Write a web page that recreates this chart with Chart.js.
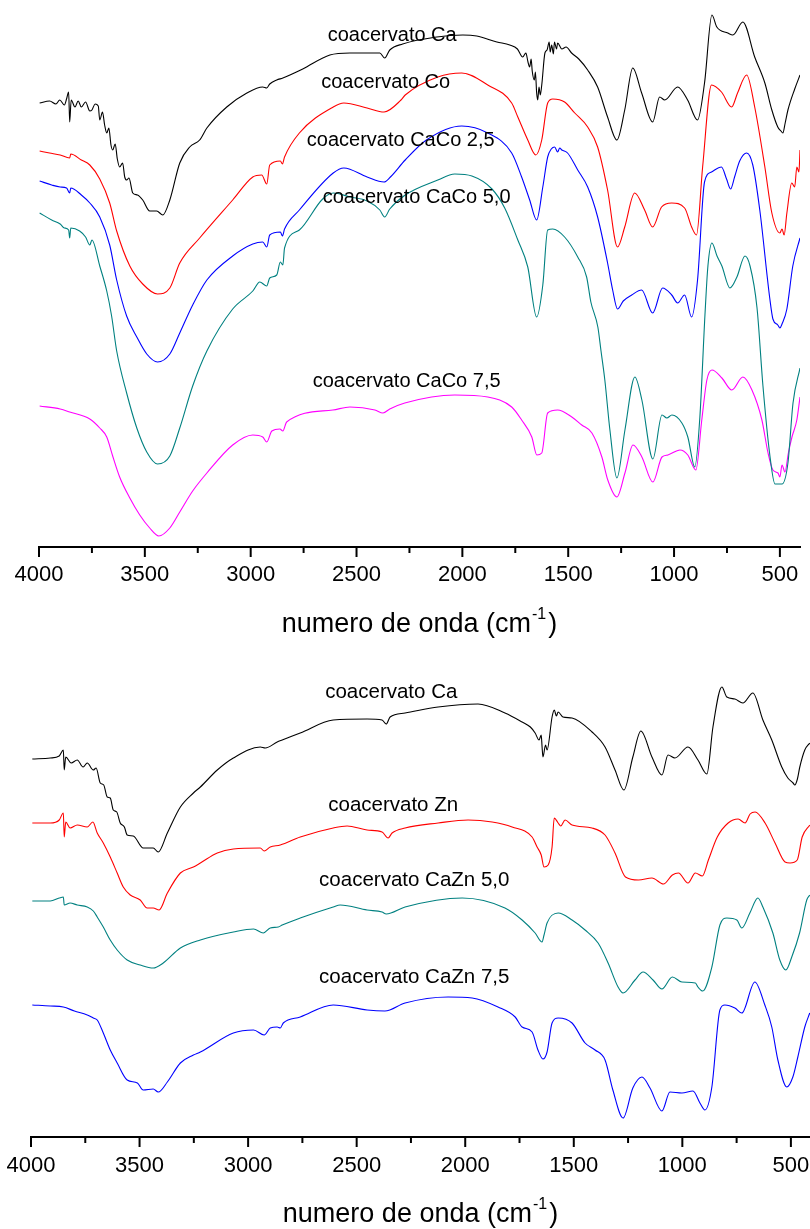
<!DOCTYPE html>
<html>
<head>
<meta charset="utf-8">
<script src="https://cdn.jsdelivr.net/npm/chart.js@4.4.1/dist/chart.umd.min.js"></script>
<style>
    body { margin: 0; background: #fff; width: 810px; height: 1229px; position: relative; overflow: hidden; }
    canvas { position: absolute; left: 0; }
    #topChart { top: 0; }
    #bottomChart { top: 650px; }
</style>
</head>
<body>
<canvas id="topChart" width="810" height="650"></canvas>
<canvas id="bottomChart" width="810" height="579"></canvas>
<script>
// ── FTIR spectra, two stacked panels ─────────────────────────────────────
// x = wavenumber (cm-1), y = transmittance with the vertical offsets
// of the original figure (arbitrary units).

const tickValues = [4000, 3750, 3500, 3250, 3000, 2750, 2500, 2250, 2000, 1750, 1500, 1250, 1000, 750, 500];
const axisTitle = ['numero de onda (cm', '-1', ')'];

// ── top panel: Ca / Co / CaCo ──
const caTopWn = [3997, 3950, 3920, 3902, 3880, 3870, 3860, 3855, 3848, 3830, 3815, 3800, 3780, 3760, 3750, 3735, 3720, 3713, 3700, 3690, 3680, 3670, 3660, 3652, 3640, 3630, 3619, 3605, 3595, 3586, 3575, 3557, 3535, 3510, 3477, 3444, 3415, 3382, 3335, 3288, 3241, 3207, 3113, 3018, 2943, 2924, 2910, 2877, 2848, 2754, 2626, 2531, 2390, 2367, 2343, 2282, 2121, 1998, 1932, 1837, 1776, 1740, 1715, 1700, 1690, 1682, 1675, 1670, 1660, 1655, 1649, 1644, 1638, 1632, 1625, 1610, 1600, 1590, 1585, 1578, 1570, 1565, 1555, 1550, 1530, 1510, 1484, 1450, 1408, 1361, 1314, 1270, 1233, 1195, 1153, 1101, 1068, 1044, 983, 936, 889, 856, 821, 798, 746, 722, 675, 619, 571, 538, 510, 495, 486, 475, 462, 430, 405];
const caTopT = [44.4, 44.6, 44.3, 44.7, 44.2, 44.8, 45.5, 42.5, 44.7, 44.0, 44.6, 44.0, 44.5, 43.6, 43.7, 44.3, 44.1, 42.7, 43.5, 42.2, 41.4, 41.9, 40.2, 39.7, 40.3, 38.8, 38.0, 38.4, 37.0, 36.7, 36.9, 35.4, 35.2, 34.7, 33.6, 33.6, 33.2, 34.7, 38.4, 40.0, 40.7, 41.9, 44.0, 45.4, 46.0, 45.9, 46.3, 46.7, 46.9, 47.8, 49.2, 49.4, 49.4, 48.9, 49.7, 50.3, 51.0, 51.2, 51.1, 50.5, 50.2, 49.8, 49.0, 49.4, 48.5, 48.0, 48.8, 47.6, 46.7, 47.5, 45.4, 44.7, 46.0, 45.2, 46.2, 49.4, 49.7, 50.5, 49.5, 50.2, 49.3, 50.5, 49.8, 50.4, 49.8, 50.0, 49.4, 48.8, 47.7, 46.0, 43.0, 40.7, 43.7, 47.9, 45.4, 42.5, 45.0, 44.7, 46.0, 44.7, 42.7, 46.4, 53.2, 52.0, 51.4, 51.2, 52.5, 49.0, 46.4, 43.7, 42.0, 41.6, 41.4, 42.4, 43.7, 45.8, 47.2];

const coTopWn = [3997, 3950, 3900, 3855, 3850, 3800, 3760, 3713, 3666, 3633, 3571, 3510, 3440, 3382, 3335, 3241, 3085, 2990, 2948, 2924, 2910, 2860, 2850, 2840, 2770, 2610, 2560, 2450, 2370, 2290, 2270, 2116, 2003, 1880, 1767, 1738, 1691, 1653, 1625, 1597, 1573, 1517, 1469, 1408, 1361, 1314, 1267, 1233, 1186, 1139, 1101, 1059, 1011, 950, 917, 894, 865, 823, 776, 728, 700, 657, 619, 571, 538, 500, 490, 480, 467, 444, 430, 420, 410, 405];
const coTopT = [39.6, 39.4, 39.2, 38.9, 39.3, 38.7, 38.2, 36.8, 34.4, 31.6, 28.1, 26.3, 25.3, 25.9, 28.4, 30.9, 34.7, 37.0, 37.2, 36.3, 38.2, 38.6, 38.3, 39.0, 41.4, 44.0, 44.4, 43.9, 43.5, 44.7, 45.2, 47.0, 47.4, 46.2, 44.4, 43.0, 40.7, 39.2, 40.7, 44.4, 44.8, 44.5, 43.4, 42.0, 40.0, 35.7, 30.0, 32.0, 35.4, 33.7, 32.0, 34.0, 34.4, 33.9, 32.0, 31.2, 38.0, 46.2, 45.5, 44.0, 45.4, 47.2, 44.0, 38.0, 33.4, 31.4, 31.8, 31.2, 33.4, 36.4, 36.0, 38.0, 37.5, 39.7];

const caco25Wn = [3997, 3940, 3900, 3870, 3855, 3850, 3800, 3760, 3713, 3666, 3633, 3586, 3538, 3491, 3440, 3382, 3335, 3274, 3207, 3085, 2990, 2943, 2924, 2910, 2860, 2850, 2840, 2770, 2610, 2560, 2450, 2370, 2340, 2270, 2170, 2003, 1880, 1767, 1720, 1682, 1649, 1620, 1597, 1580, 1564, 1550, 1540, 1530, 1503, 1455, 1408, 1361, 1314, 1290, 1267, 1240, 1200, 1153, 1101, 1054, 1011, 983, 950, 917, 889, 856, 823, 776, 752, 733, 714, 690, 657, 628, 595, 548, 533, 510, 500, 490, 467, 439, 405];
const caco25T = [36.6, 36.2, 36.0, 35.9, 35.4, 35.9, 35.2, 34.4, 33.0, 30.2, 26.7, 23.1, 21.0, 19.3, 18.5, 19.3, 21.4, 24.2, 26.7, 29.1, 30.3, 30.5, 30.0, 31.2, 31.5, 31.1, 31.8, 33.7, 37.4, 37.9, 37.0, 36.5, 37.0, 38.7, 40.7, 42.1, 41.4, 39.4, 37.0, 34.7, 32.7, 36.0, 39.0, 39.8, 40.0, 39.5, 39.9, 39.7, 39.4, 37.7, 36.0, 33.0, 28.4, 25.7, 23.8, 24.6, 25.2, 25.7, 23.4, 25.9, 25.2, 24.4, 25.2, 23.0, 26.7, 36.5, 37.5, 38.0, 36.8, 35.8, 37.0, 38.6, 39.4, 38.2, 33.7, 24.9, 22.8, 22.2, 21.9, 22.3, 23.8, 28.1, 30.9];

const caco50Wn = [3997, 3940, 3900, 3880, 3860, 3855, 3850, 3808, 3780, 3760, 3750, 3713, 3680, 3657, 3633, 3586, 3538, 3491, 3440, 3382, 3335, 3274, 3207, 3085, 2990, 2957, 2924, 2910, 2877, 2860, 2848, 2840, 2770, 2660, 2610, 2530, 2450, 2390, 2367, 2343, 2270, 2116, 2036, 1955, 1860, 1800, 1738, 1691, 1649, 1620, 1597, 1573, 1517, 1455, 1413, 1393, 1360, 1345, 1327, 1303, 1270, 1232, 1185, 1152, 1100, 1057, 1034, 1010, 963, 935, 902, 878, 854, 840, 821, 797, 774, 736, 703, 665, 641, 608, 580, 547, 523, 490, 462, 438, 405];
const caco50T = [33.4, 32.7, 32.3, 31.9, 31.7, 30.9, 31.9, 31.6, 31.0, 30.2, 30.7, 28.1, 25.6, 23.1, 19.6, 15.4, 11.9, 9.5, 8.3, 9.1, 11.9, 16.1, 19.6, 23.8, 25.6, 26.5, 26.1, 26.9, 27.2, 28.5, 28.2, 29.9, 31.7, 34.8, 35.4, 35.0, 34.6, 33.7, 33.0, 33.8, 35.2, 36.7, 37.3, 37.1, 35.8, 33.9, 30.7, 28.0, 23.0, 26.2, 31.7, 31.8, 31.0, 29.0, 27.0, 24.5, 22.0, 19.6, 16.7, 11.7, 6.9, 11.7, 17.0, 14.7, 8.8, 13.2, 12.9, 13.2, 12.4, 11.0, 8.0, 13.0, 23.2, 28.1, 30.4, 29.1, 28.1, 25.9, 27.0, 29.1, 28.1, 23.9, 16.1, 9.1, 6.3, 6.3, 8.4, 14.4, 17.9];

const caco75Wn = [3997, 3900, 3855, 3760, 3713, 3680, 3652, 3619, 3571, 3524, 3477, 3434, 3382, 3335, 3274, 3207, 3085, 2990, 2943, 2924, 2900, 2862, 2848, 2830, 2612, 2531, 2413, 2375, 2343, 2272, 2036, 1880, 1767, 1720, 1672, 1648, 1625, 1597, 1550, 1483, 1436, 1388, 1341, 1313, 1270, 1232, 1194, 1152, 1100, 1057, 1029, 972, 935, 897, 869, 845, 821, 774, 727, 675, 632, 585, 556, 533, 509, 500, 490, 476, 460, 443, 420, 405];
const caco75T = [14.1, 13.8, 13.5, 12.8, 11.9, 11.0, 9.1, 7.0, 4.9, 3.2, 1.9, 1.1, 1.9, 3.5, 5.6, 7.4, 10.2, 11.2, 11.0, 10.5, 11.6, 11.8, 11.6, 12.5, 13.7, 14.0, 13.7, 13.4, 13.8, 14.4, 15.2, 15.0, 14.0, 12.7, 11.0, 9.2, 9.4, 13.4, 13.7, 13.0, 12.2, 11.4, 9.0, 6.7, 5.0, 7.4, 10.2, 9.0, 6.5, 9.0, 9.2, 9.7, 9.2, 7.7, 12.7, 16.7, 17.7, 16.9, 15.7, 17.0, 15.7, 12.7, 9.4, 7.7, 7.4, 7.0, 8.2, 7.5, 9.4, 11.0, 12.7, 15.0];

const topLabelText = ['coacervato Ca', 'coacervato Co', 'coacervato CaCo 2,5', 'coacervato CaCo 5,0', 'coacervato CaCo 7,5'];
const topLabelWn = [2636, 2667, 2735, 2660, 2707];
const topLabelT = [51.2, 46.5, 40.7, 35.0, 16.6];

// ── bottom panel: Ca / Zn / CaZn ──
const caBotWn = [3994, 3911, 3870, 3851, 3847, 3840, 3815, 3787, 3760, 3741, 3713, 3700, 3681, 3665, 3649, 3635, 3621, 3605, 3589, 3570, 3557, 3529, 3483, 3437, 3414, 3372, 3312, 3252, 3220, 3142, 3068, 2944, 2921, 2866, 2843, 2760, 2608, 2452, 2383, 2364, 2346, 2277, 2125, 1941, 1817, 1738, 1700, 1678, 1660, 1650, 1646, 1642, 1630, 1623, 1600, 1590, 1580, 1572, 1550, 1508, 1416, 1356, 1310, 1269, 1228, 1191, 1140, 1094, 1066, 1034, 974, 928, 887, 859, 818, 795, 758, 721, 675, 629, 588, 542, 514, 490, 482, 470, 459, 436, 413];
const caBotT = [37.8, 37.9, 38.1, 38.7, 36.7, 38.0, 37.4, 37.7, 37.0, 37.4, 36.7, 36.9, 35.4, 35.2, 34.0, 33.9, 32.7, 32.5, 31.4, 31.0, 30.2, 30.1, 28.9, 28.9, 28.5, 30.4, 33.0, 34.4, 35.0, 36.7, 37.9, 39.0, 38.9, 39.5, 39.7, 40.4, 41.7, 41.8, 41.7, 41.3, 42.0, 42.4, 43.0, 43.3, 42.4, 41.5, 41.0, 40.4, 39.7, 40.2, 39.0, 38.0, 39.2, 38.7, 42.0, 42.7, 42.1, 42.5, 42.0, 41.9, 40.5, 39.0, 36.7, 34.7, 38.0, 40.6, 38.0, 36.2, 38.2, 37.9, 39.0, 37.7, 36.3, 41.0, 45.0, 44.0, 43.8, 43.4, 44.4, 41.7, 39.7, 37.0, 35.9, 35.4, 35.2, 35.8, 37.0, 38.7, 39.4];

const znWn = [3994, 3911, 3870, 3851, 3847, 3840, 3820, 3787, 3741, 3715, 3695, 3667, 3635, 3603, 3575, 3543, 3497, 3465, 3437, 3410, 3372, 3312, 3252, 3220, 3142, 3068, 2944, 2926, 2898, 2852, 2760, 2608, 2544, 2452, 2383, 2355, 2337, 2277, 2125, 1987, 1876, 1784, 1692, 1669, 1650, 1637, 1618, 1600, 1590, 1572, 1560, 1540, 1508, 1416, 1356, 1310, 1262, 1202, 1140, 1087, 1046, 1018, 974, 940, 908, 880, 839, 789, 743, 711, 688, 665, 619, 573, 527, 504, 471, 448, 413];
const znT = [31.4, 31.4, 31.7, 32.4, 30.0, 31.5, 30.9, 31.2, 31.0, 31.5, 30.4, 29.4, 28.0, 26.4, 25.0, 24.2, 23.7, 22.9, 22.9, 22.7, 24.4, 26.4, 27.0, 27.4, 28.4, 28.8, 28.9, 28.6, 29.0, 29.2, 30.0, 30.9, 31.1, 30.7, 30.5, 29.9, 30.4, 30.9, 31.4, 31.7, 31.5, 31.0, 30.0, 29.0, 28.2, 27.0, 27.2, 29.0, 31.9, 31.4, 31.1, 31.7, 31.2, 30.9, 30.2, 28.4, 26.0, 25.7, 25.9, 25.3, 26.2, 26.4, 25.4, 26.4, 26.1, 27.7, 30.0, 31.4, 31.8, 31.4, 32.3, 32.5, 31.4, 29.4, 27.5, 27.4, 27.7, 30.0, 31.2];

const cazn50Wn = [3994, 3911, 3870, 3851, 3847, 3820, 3787, 3741, 3713, 3695, 3667, 3635, 3603, 3557, 3497, 3437, 3391, 3312, 3220, 3068, 2975, 2930, 2898, 2861, 2843, 2760, 2608, 2576, 2452, 2383, 2364, 2277, 2014, 1817, 1738, 1678, 1646, 1637, 1623, 1572, 1508, 1448, 1388, 1342, 1296, 1273, 1218, 1181, 1135, 1094, 1046, 1002, 940, 928, 906, 864, 827, 795, 749, 726, 689, 652, 629, 583, 551, 523, 496, 460, 427, 413];
const cazn50T = [23.6, 23.6, 23.9, 24.0, 23.2, 23.4, 23.2, 23.0, 22.6, 22.0, 21.0, 19.7, 18.7, 17.7, 17.2, 16.9, 17.4, 18.9, 19.7, 20.5, 20.8, 20.4, 20.9, 21.0, 21.2, 21.9, 23.0, 23.2, 22.7, 22.5, 22.3, 23.0, 23.9, 22.9, 21.7, 20.4, 19.5, 20.2, 21.4, 22.4, 21.7, 20.7, 19.4, 17.4, 15.0, 14.4, 15.7, 16.5, 15.7, 14.8, 16.0, 15.5, 15.4, 15.0, 14.6, 17.0, 21.2, 21.9, 21.7, 20.9, 22.4, 23.9, 23.0, 20.4, 17.7, 16.7, 18.0, 20.4, 23.7, 24.2];

const cazn75Wn = [3994, 3911, 3851, 3800, 3741, 3713, 3695, 3667, 3635, 3603, 3557, 3510, 3483, 3437, 3414, 3372, 3312, 3252, 3220, 3068, 2975, 2926, 2898, 2866, 2852, 2838, 2760, 2608, 2452, 2370, 2277, 2079, 1968, 1849, 1770, 1738, 1692, 1665, 1642, 1623, 1600, 1572, 1508, 1448, 1402, 1356, 1320, 1273, 1228, 1186, 1149, 1094, 1057, 1002, 951, 919, 896, 864, 827, 804, 758, 726, 666, 620, 588, 560, 519, 491, 468, 436, 413];
const cazn75T = [13.2, 13.1, 13.0, 12.6, 12.2, 11.9, 11.7, 10.4, 8.7, 7.4, 5.7, 5.4, 4.7, 4.8, 4.5, 5.5, 7.4, 8.2, 8.5, 10.4, 10.7, 10.2, 10.9, 11.0, 10.9, 11.4, 12.0, 13.2, 12.7, 12.6, 13.4, 14.0, 13.9, 13.0, 12.0, 11.0, 10.5, 8.7, 7.8, 8.5, 11.4, 11.9, 11.4, 9.4, 8.7, 7.7, 4.7, 1.9, 4.9, 6.0, 4.9, 2.6, 4.5, 4.4, 4.6, 3.4, 2.7, 5.0, 12.7, 13.2, 12.9, 12.4, 15.5, 13.2, 11.0, 7.7, 5.0, 6.0, 8.0, 11.0, 12.4];

const botLabelText = ['coacervato Ca', 'coacervato Zn', 'coacervato CaZn 5,0', 'coacervato CaZn 7,5'];
const botLabelWn = [2645, 2631, 2673, 2673];
const botLabelT = [44.5, 33.2, 25.7, 16.0];

const FONT = '"Liberation Sans", Arial, sans-serif';

function series(wn, t, color) {
    return {
        data: wn.map((w, i) => ({ x: w, y: t[i] })),
        borderColor: color,
        borderWidth: 1.1,
        pointRadius: 0,
        cubicInterpolationMode: 'monotone',
        fill: false
    };
}

// tick marks, curve names and the axis title (it needs a superscript)
function decor(labelText, labelWn, labelT, labelSize) {
    return {
        id: 'decor',
        afterDraw(chart) {
            const { ctx, chartArea, scales: { x, y } } = chart;
            const base = chartArea.bottom;

            ctx.save();
            ctx.strokeStyle = '#000';
            ctx.lineWidth = 2;
            tickValues.forEach(v => {
                const px = x.getPixelForValue(v);
                const len = v % 500 === 0 ? 10 : 6;
                ctx.beginPath();
                ctx.moveTo(px, base);
                ctx.lineTo(px, base + len);
                ctx.stroke();
            });

            ctx.fillStyle = '#000';
            ctx.font = labelSize + 'px ' + FONT;
            ctx.textAlign = 'left';
            ctx.textBaseline = 'middle';
            labelText.forEach((t, i) => {
                ctx.fillText(t, x.getPixelForValue(labelWn[i]), y.getPixelForValue(labelT[i]));
            });

            const mainFont = '27px ' + FONT;
            const supFont = '16px ' + FONT;
            ctx.textBaseline = 'alphabetic';
            ctx.font = mainFont;
            const w1 = ctx.measureText(axisTitle[0]).width;
            const w3 = ctx.measureText(axisTitle[2]).width;
            ctx.font = supFont;
            const w2 = ctx.measureText(axisTitle[1]).width;

            const by = base + 85;
            let tx = (chartArea.left + chartArea.right) / 2 - (w1 + w2 + w3 + 3) / 2;
            ctx.font = mainFont;
            ctx.fillText(axisTitle[0], tx, by);
            tx += w1 + 1;
            ctx.font = supFont;
            ctx.fillText(axisTitle[1], tx, by - 13);
            tx += w2 + 2;
            ctx.font = mainFont;
            ctx.fillText(axisTitle[2], tx, by);
            ctx.restore();
        }
    };
}

function buildChart(canvasId, datasets, cfg) {
    return new Chart(document.getElementById(canvasId), {
        type: 'line',
        data: { datasets },
        options: {
            responsive: false,
            animation: false,
            devicePixelRatio: 1,
            layout: { padding: { left: cfg.padLeft, right: cfg.padRight, top: 0, bottom: 0 } },
            plugins: { legend: { display: false }, tooltip: { enabled: false } },
            scales: {
                x: {
                    type: 'linear',
                    reverse: true,
                    min: cfg.xMin,
                    max: 4000,
                    grid: { display: false, drawTicks: false },
                    border: { display: true, color: '#000', width: 2 },
                    afterBuildTicks: s => { s.ticks = tickValues.map(v => ({ value: v })); },
                    afterFit: s => {
                        s.height = cfg.axisHeight;
                        s.paddingLeft = 0;
                        s.paddingRight = 0;
                    },
                    ticks: {
                        padding: cfg.tickPad,
                        color: '#000',
                        autoSkip: false,
                        maxRotation: 0,
                        font: { family: FONT, size: 22 },
                        callback: v => (v % 500 === 0 ? String(v) : '')
                    }
                },
                y: { display: false, min: 0, max: cfg.yMax }
            }
        },
        plugins: [decor(cfg.labelText, cfg.labelWn, cfg.labelT, cfg.labelSize)]
    });
}

buildChart('topChart', [
    series(caTopWn, caTopT, '#000000'),
    series(coTopWn, coTopT, '#ff0000'),
    series(caco25Wn, caco25T, '#0000ff'),
    series(caco50Wn, caco50T, '#008080'),
    series(caco75Wn, caco75T, '#ff00ff')
], {
    padLeft: 39, padRight: 10, xMin: 405, yMax: 54.7, axisHeight: 103, tickPad: 15,
    labelText: topLabelText, labelWn: topLabelWn, labelT: topLabelT, labelSize: 20
});

buildChart('bottomChart', [
    series(caBotWn, caBotT, '#000000'),
    series(znWn, znT, '#ff0000'),
    series(cazn50Wn, cazn50T, '#008080'),
    series(cazn75Wn, cazn75T, '#0000ff')
], {
    padLeft: 31, padRight: 0, xMin: 412, yMax: 48.7, axisHeight: 92, tickPad: 16,
    labelText: botLabelText, labelWn: botLabelWn, labelT: botLabelT, labelSize: 20.5
});
</script>
</body>
</html>
